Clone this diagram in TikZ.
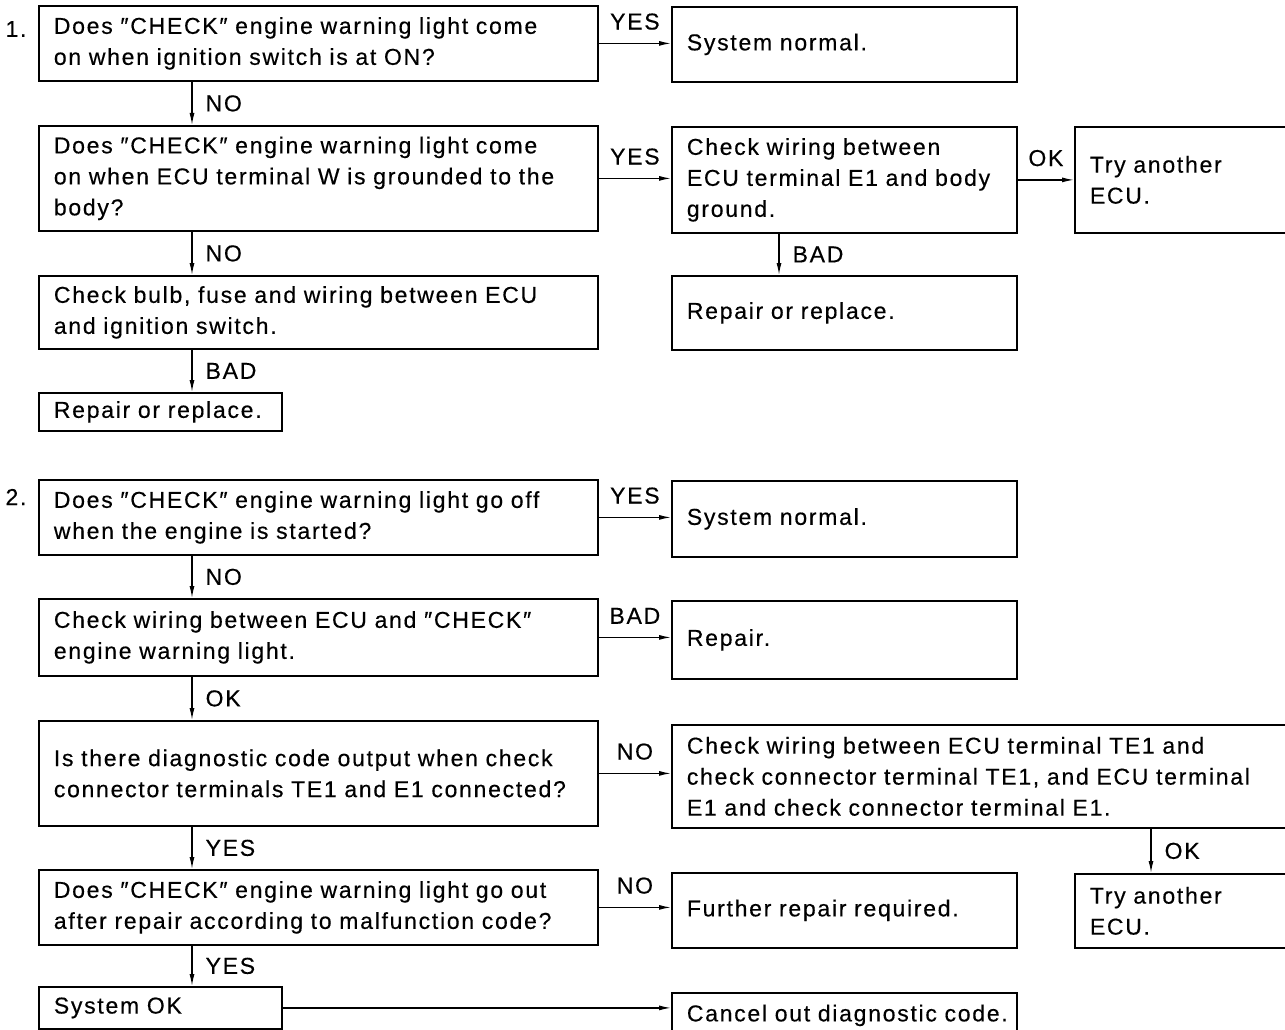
\documentclass[tikz,border=0pt]{standalone}
\usepackage{fontspec}
\setmainfont{Liberation Sans}[LetterSpace=7.5,FakeBold=0.4]
\usetikzlibrary{arrows.meta}
\newcommand\flowfont{\fontsize{23pt}{31pt}\selectfont}

\begin{document}
\begin{tikzpicture}[x=1pt,y=-1pt,>={Latex[length=12pt,width=5pt]},
  box/.style={draw,line width=1.8pt,anchor=north west,align=left,inner xsep=15pt,inner ysep=0pt,font=\flowfont},
  wide/.style={box,text width=529pt},
  mid/.style={box,text width=315pt},
  small/.style={box,text width=213pt},
  arr/.style={->,line width=1.3pt},
  lbl/.style={font=\flowfont,inner sep=0pt}]
  \useasboundingbox (0,0) rectangle (1285,1030);
  % part 1
  \node[lbl] (n1) at (16,29) {1.};
  \node[wide,minimum height=75pt] (q1) at (38,5) {Does ″CHECK″ engine warning light come\\on when ignition switch is at ON?};
  \node[mid,minimum height=75pt] (ok1) at (671,6) {System normal.};
  \node[wide,minimum height=105pt] (q2) at (38,125) {Does ″CHECK″ engine warning light come\\on when ECU terminal W is grounded to the\\body?};
  \node[mid,minimum height=106pt] (chk1) at (671,126) {Check wiring between\\ECU terminal E1 and body\\ground.};
  \node[mid,minimum height=106pt] (ecu1) at (1074,126) {Try another\\ECU.};
  \node[mid,minimum height=74pt] (rep1) at (671,275) {Repair or replace.};
  \node[wide,minimum height=73pt] (q3) at (38,275) {Check bulb, fuse and wiring between ECU\\and ignition switch.};
  \node[small,minimum height=38pt] (rep2) at (38,392) {Repair or replace.};
  \draw[arr] (q1.east) -- (q1.east -| ok1.west) node[midway,above=13pt,lbl] {YES};
  \draw[arr] ([xshift=154pt]q1.south west) -- ([xshift=154pt]q2.north west) node[midway,right=13pt,lbl] {NO};
  \draw[arr] (q2.east) -- (q2.east -| chk1.west) node[midway,above=13pt,lbl] {YES};
  \draw[arr] (chk1.east) -- (chk1.east -| ecu1.west) node[midway,above=13pt,lbl] {OK};
  \draw[arr] ([xshift=108pt]chk1.south west) -- ([xshift=108pt]rep1.north west) node[midway,right=13pt,lbl] {BAD};
  \draw[arr] ([xshift=154pt]q2.south west) -- ([xshift=154pt]q3.north west) node[midway,right=13pt,lbl] {NO};
  \draw[arr] ([xshift=154pt]q3.south west) -- ([xshift=154pt]rep2.north west) node[midway,right=13pt,lbl] {BAD};
  % part 2
  \node[lbl] (n2) at (16,497) {2.};
  \node[wide,minimum height=75pt] (q4) at (38,479) {Does ″CHECK″ engine warning light go off\\when the engine is started?};
  \node[mid,minimum height=76pt] (ok2) at (671,480) {System normal.};
  \node[wide,minimum height=77pt] (q5) at (38,598) {Check wiring between ECU and ″CHECK″\\engine warning light.};
  \node[mid,minimum height=78pt] (rep3) at (671,600) {Repair.};
  \node[wide,minimum height=105pt] (q6) at (38,720) {Is there diagnostic code output when check\\connector terminals TE1 and E1 connected?};
  \node[box,text width=620pt,minimum height=103pt] (chk2) at (671,724) {Check wiring between ECU terminal TE1 and\\check connector terminal TE1, and ECU terminal\\E1 and check connector terminal E1.};
  \node[mid,minimum height=74pt] (ecu2) at (1074,873) {Try another\\ECU.};
  \node[wide,minimum height=75pt] (q7) at (38,869) {Does ″CHECK″ engine warning light go out\\after repair according to malfunction code?};
  \node[mid,minimum height=75pt] (fur) at (671,872) {Further repair required.};
  \node[small,minimum height=42pt] (sok) at (38,986) {System OK};
  \node[mid,minimum height=45pt] (cnl) at (671,992) {Cancel out diagnostic code.};
  \draw[arr] (q4.east) -- (q4.east -| ok2.west) node[midway,above=13pt,lbl] {YES};
  \draw[arr] ([xshift=154pt]q4.south west) -- ([xshift=154pt]q5.north west) node[midway,right=13pt,lbl] {NO};
  \draw[arr] (q5.east) -- (q5.east -| rep3.west) node[midway,above=13pt,lbl] {BAD};
  \draw[arr] ([xshift=154pt]q5.south west) -- ([xshift=154pt]q6.north west) node[midway,right=13pt,lbl] {OK};
  \draw[arr] (q6.east) -- (q6.east -| chk2.west) node[midway,above=13pt,lbl] {NO};
  \draw[arr] ([xshift=480pt]chk2.south west) -- ([xshift=480pt]chk2.south west |- ecu2.north) node[midway,right=13pt,lbl] {OK};
  \draw[arr] ([xshift=154pt]q6.south west) -- ([xshift=154pt]q7.north west) node[midway,right=13pt,lbl] {YES};
  \draw[arr] (q7.east) -- (q7.east -| fur.west) node[midway,above=13pt,lbl] {NO};
  \draw[arr] ([xshift=154pt]q7.south west) -- ([xshift=154pt]sok.north west) node[midway,right=13pt,lbl] {YES};
  \draw[arr] (sok.east) -- (sok.east -| cnl.west);
\end{tikzpicture}
\end{document}
